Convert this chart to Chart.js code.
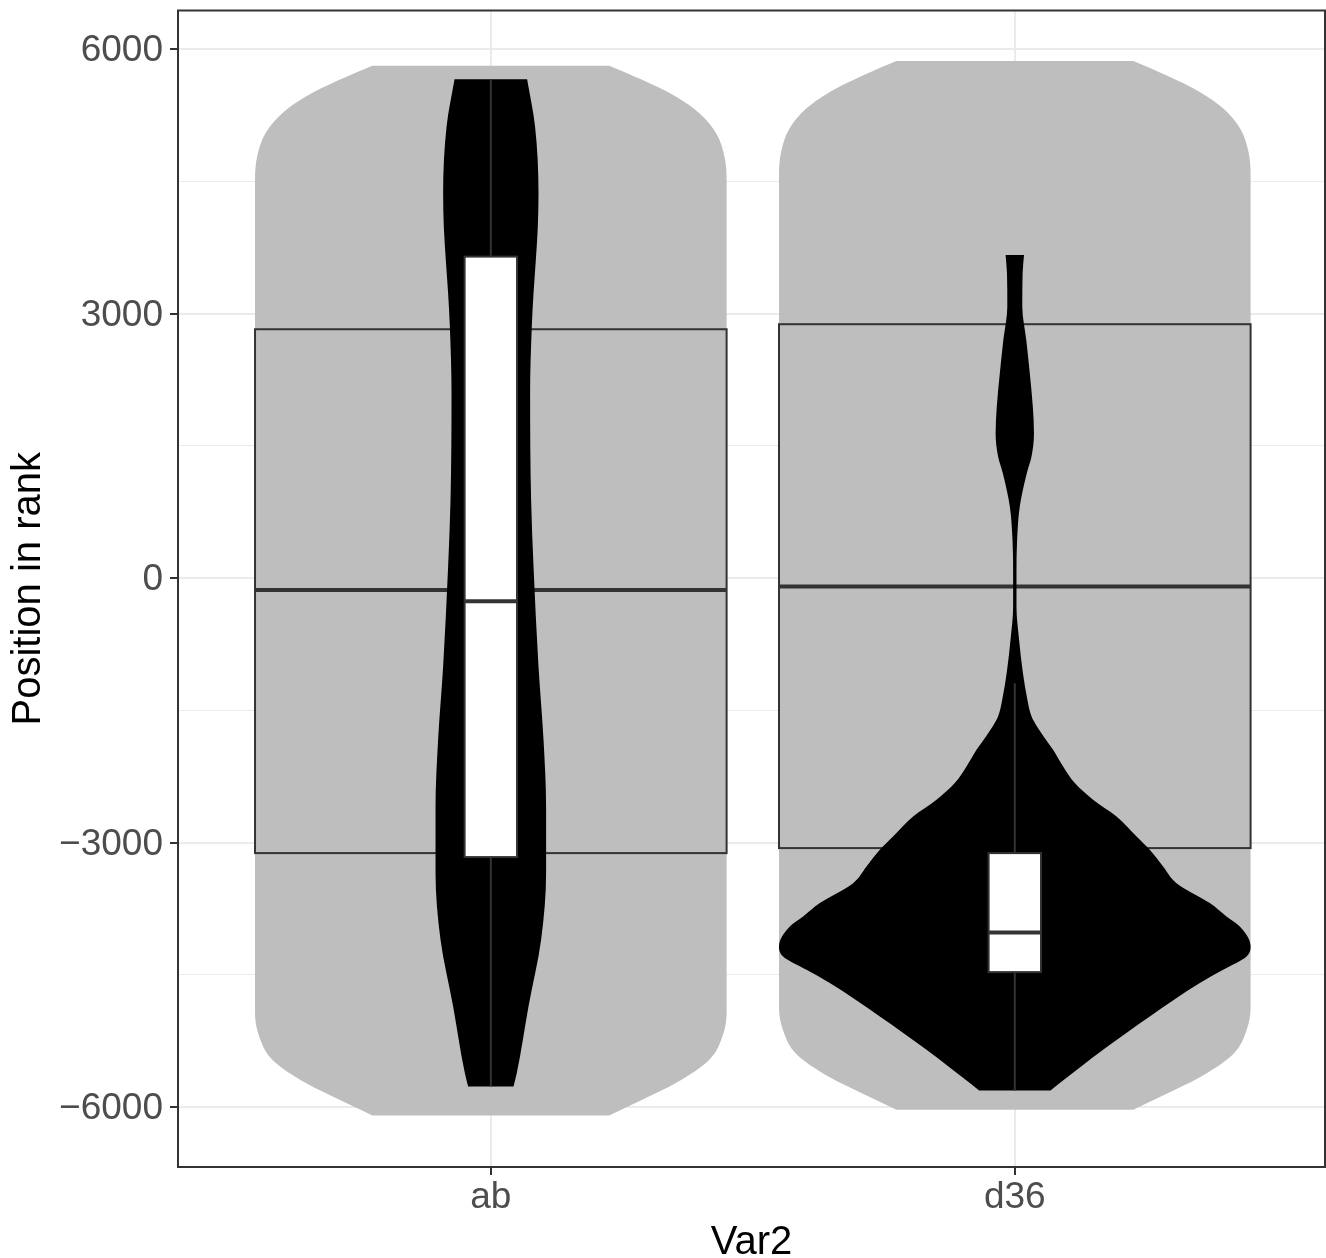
<!DOCTYPE html>
<html>
<head>
<meta charset="utf-8">
<script src="https://cdn.jsdelivr.net/npm/chart.js@4.4.1/dist/chart.umd.min.js"></script>
<style>
html, body { margin: 0; padding: 0; background: #ffffff; }
#wrap { width: 1326px; height: 1258px; }
</style>
</head>
<body>
<div id="wrap"><canvas id="c" width="1326" height="1258"></canvas></div>
<script>
// ---------------- data ----------------
const categories = ['ab', 'd36'];
const catPositions = [1, 2];
const yTicks = [-6000, -4500, -3000, -1500, 0, 1500, 3000, 4500, 6000];
const yTickLabels = ['\u22126000', '', '\u22123000', '', '0', '', '3000', '', '6000'];

// outer (grey) violins: y values and half-widths (category units)
const greyAbY   = [5814, 5653, 5463, 5274, 5047, 4782, 4517, -4934, -5199, -5463, -5728, -5917, -6095];
const greyAbHW  = [0.226, 0.289, 0.353, 0.398, 0.430, 0.446, 0.450, 0.450, 0.442, 0.417, 0.353, 0.289, 0.226];
const greyD36Y  = [5867, 5706, 5516, 5327, 5100, 4835, 4570, -4869, -5134, -5398, -5663, -5852, -6030];
const greyD36HW = [0.226, 0.289, 0.353, 0.398, 0.430, 0.446, 0.450, 0.450, 0.442, 0.417, 0.353, 0.289, 0.226];

// outer (grey) boxplots
const outerQ1  = [-3119, -3062];
const outerMed = [-133, -95];
const outerQ3  = [2824, 2881];

// inner (black) violins
const blackAbY  = [5659, 5122, 4367, 3988, 3610, 3232, 2854, 2098, 888, 132, -1003, -1834, -2590, -3346, -4102, -4859, -5614, -5766];
const blackAbHW = [0.0693, 0.0845, 0.0910, 0.0897, 0.0859, 0.0815, 0.0782, 0.0750, 0.0769, 0.0815, 0.0910, 0.1006, 0.1055, 0.1055, 0.0960, 0.0719, 0.0496, 0.0433];
const blackD36Y  = [3667, 3459, 3080, 2703, 2325, 1946, 1645, 1379, 1191, 812, 434, 57, -322, -700, -1077, -1380, -1570, -1680, -1796, -1947, -2137, -2325, -2514, -2704, -2931, -3082, -3271, -3460, -3686, -3838, -3951, -4178, -4292, -4443, -4593, -4972, -5350, -5728, -5812];
const blackD36HW = [0.0176, 0.0149, 0.0143, 0.0219, 0.0286, 0.0344, 0.0366, 0.0319, 0.0229, 0.0095, 0.0044, 0.0032, 0.0032, 0.0082, 0.0155, 0.0240, 0.0320, 0.0420, 0.0550, 0.0731, 0.0922, 0.1145, 0.1494, 0.1941, 0.2323, 0.2576, 0.2830, 0.3086, 0.3721, 0.4040, 0.4294, 0.4500, 0.4422, 0.3975, 0.3531, 0.2576, 0.1685, 0.0859, 0.0681];

// inner (white) boxplots
const innerLow  = [-5766, -5812];
const innerQ1   = [-3164, -4469];
const innerMed  = [-261, -4019];
const innerQ3   = [3648, -3119];
const innerHigh = [5659, -1191];

// ---------------- drawing helpers ----------------
const LINE = '#333333';

function smoothThrough(ctx, pts) {
  const n = pts.length;
  const d = [], m = new Array(n);
  for (let i = 0; i < n - 1; i++) d.push((pts[i + 1].x - pts[i].x) / (pts[i + 1].y - pts[i].y));
  m[0] = d[0]; m[n - 1] = d[n - 2];
  for (let i = 1; i < n - 1; i++) m[i] = (d[i - 1] * d[i] <= 0) ? 0 : (d[i - 1] + d[i]) / 2;
  for (let i = 0; i < n - 1; i++) {
    if (Math.abs(d[i]) < 1e-12) { m[i] = 0; m[i + 1] = 0; continue; }
    const a = m[i] / d[i], b = m[i + 1] / d[i], s = a * a + b * b;
    if (s > 9) { const t = 3 / Math.sqrt(s); m[i] = t * a * d[i]; m[i + 1] = t * b * d[i]; }
  }
  for (let i = 0; i < n - 1; i++) {
    const h = (pts[i + 1].y - pts[i].y) / 3;
    ctx.bezierCurveTo(pts[i].x + m[i] * h, pts[i].y + h,
                      pts[i + 1].x - m[i + 1] * h, pts[i + 1].y - h,
                      pts[i + 1].x, pts[i + 1].y);
  }
}

function drawViolin(ctx, xs, ys, center, vals, hws, color) {
  const left = vals.map((v, i) => ({ x: xs.getPixelForValue(center - hws[i]), y: ys.getPixelForValue(v) }));
  const right = vals.map((v, i) => ({ x: xs.getPixelForValue(center + hws[i]), y: ys.getPixelForValue(v) })).reverse();
  ctx.beginPath();
  ctx.moveTo(left[0].x, left[0].y);
  smoothThrough(ctx, left);
  ctx.lineTo(right[0].x, right[0].y);
  smoothThrough(ctx, right);
  ctx.closePath();
  ctx.fillStyle = color;
  ctx.fill();
}

function drawBox(ctx, xs, ys, center, width, q1, med, q3, fill) {
  const x0 = xs.getPixelForValue(center - width / 2);
  const x1 = xs.getPixelForValue(center + width / 2);
  const y1 = ys.getPixelForValue(q1), y3 = ys.getPixelForValue(q3), ym = ys.getPixelForValue(med);
  ctx.fillStyle = fill;
  ctx.fillRect(x0, y3, x1 - x0, y1 - y3);
  ctx.strokeStyle = LINE; ctx.lineWidth = 2;
  ctx.strokeRect(x0, y3, x1 - x0, y1 - y3);
  ctx.lineWidth = 4;
  ctx.beginPath(); ctx.moveTo(x0, ym); ctx.lineTo(x1, ym); ctx.stroke();
}

function drawWhiskers(ctx, xs, ys, center, low, q1, q3, high) {
  const cx = xs.getPixelForValue(center);
  ctx.strokeStyle = LINE; ctx.lineWidth = 2;
  ctx.beginPath();
  ctx.moveTo(cx, ys.getPixelForValue(high)); ctx.lineTo(cx, ys.getPixelForValue(q3));
  ctx.moveTo(cx, ys.getPixelForValue(q1)); ctx.lineTo(cx, ys.getPixelForValue(low));
  ctx.stroke();
}

const violinPlugin = {
  id: 'violinLayers',
  beforeDatasetsDraw(chart) {
    const ctx = chart.ctx, xs = chart.scales.x, ys = chart.scales.y, a = chart.chartArea;
    ctx.save();
    ctx.beginPath(); ctx.rect(a.left, a.top, a.right - a.left, a.bottom - a.top); ctx.clip();
    drawViolin(ctx, xs, ys, catPositions[0], greyAbY, greyAbHW, '#BEBEBE');
    drawViolin(ctx, xs, ys, catPositions[1], greyD36Y, greyD36HW, '#BEBEBE');
    for (let i = 0; i < categories.length; i++)
      drawBox(ctx, xs, ys, catPositions[i], 0.9, outerQ1[i], outerMed[i], outerQ3[i], '#BEBEBE');
    drawViolin(ctx, xs, ys, catPositions[0], blackAbY, blackAbHW, '#000000');
    drawViolin(ctx, xs, ys, catPositions[1], blackD36Y, blackD36HW, '#000000');
    for (let i = 0; i < categories.length; i++) {
      drawWhiskers(ctx, xs, ys, catPositions[i], innerLow[i], innerQ1[i], innerQ3[i], innerHigh[i]);
      drawBox(ctx, xs, ys, catPositions[i], 0.1, innerQ1[i], innerMed[i], innerQ3[i], '#FFFFFF');
    }
    ctx.restore();
  },
  afterDraw(chart) {
    const ctx = chart.ctx, a = chart.chartArea;
    ctx.save();
    ctx.strokeStyle = LINE; ctx.lineWidth = 2;
    ctx.strokeRect(a.left, a.top, a.right - a.left, a.bottom - a.top);
    ctx.restore();
  }
};

Chart.defaults.font.family = "'Liberation Sans', Arial, Helvetica, sans-serif";

new Chart(document.getElementById('c'), {
  type: 'scatter',
  data: { datasets: [] },
  options: {
    responsive: false,
    animation: false,
    devicePixelRatio: 1,
    layout: { padding: { top: 10.5, right: 1, bottom: 0, left: 0 } },
    plugins: { legend: { display: false }, tooltip: { enabled: false } },
    scales: {
      x: {
        type: 'linear', min: 0.403, max: 2.592,
        afterBuildTicks: s => { s.ticks = catPositions.map(v => ({ value: v })); },
        afterFit: s => { s.height = 91; s.paddingLeft = 0; s.paddingRight = 0; },
        ticks: {
          autoSkip: false, maxRotation: 0, minRotation: 0,
          callback: v => { const k = catPositions.indexOf(v); return k >= 0 ? categories[k] : ''; },
          font: { size: 37, lineHeight: 1 }, color: '#4D4D4D', padding: 4
        },
        grid: { color: '#EBEBEB', lineWidth: 2, tickColor: LINE, tickWidth: 2, tickLength: 8 },
        border: { display: false },
        title: { display: true, text: 'Var2', color: '#000000', font: { size: 40, lineHeight: 1 }, padding: { top: 0, bottom: -5 } }
      },
      y: {
        type: 'linear', min: -6680, max: 6440,
        afterBuildTicks: s => { s.ticks = yTicks.map(v => ({ value: v })); },
        afterFit: s => { s.width = 178; s.paddingTop = 0; s.paddingBottom = 0; },
        ticks: {
          autoSkip: false, labelOffset: 2,
          callback: v => { const k = yTicks.indexOf(v); return k >= 0 ? yTickLabels[k] : ''; },
          font: { size: 37, lineHeight: 1 }, color: '#4D4D4D', padding: 7
        },
        grid: {
          color: '#EBEBEB',
          lineWidth: c => (c.tick && c.tick.value % 3000 === 0) ? 2 : 1,
          tickColor: c => (c.tick && c.tick.value % 3000 === 0) ? LINE : 'rgba(0,0,0,0)',
          tickWidth: 2, tickLength: 8
        },
        border: { display: false },
        title: { display: true, text: 'Position in rank', color: '#000000', font: { size: 40, lineHeight: 1 }, padding: { top: 9.4, bottom: 0 } }
      }
    }
  },
  plugins: [violinPlugin]
});
</script>
</body>
</html>
